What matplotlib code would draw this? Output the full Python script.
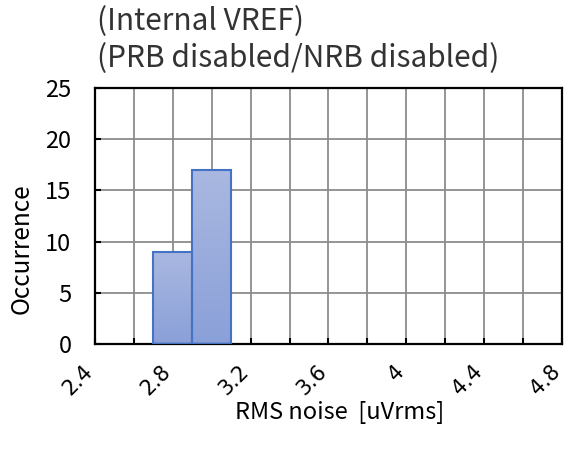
import numpy as np
import matplotlib
matplotlib.use('Agg')
import matplotlib.pyplot as plt
import matplotlib.transforms as mtransforms
from matplotlib.colors import LinearSegmentedColormap

plt.rcParams['font.family'] = ['Noto Sans CJK JP', 'DejaVu Sans']

# histogram
bin_centers = [2.8, 3.0]
counts = [9, 17]
bin_width = 0.2

x_ticks = [2.4, 2.8, 3.2, 3.6, 4.0, 4.4, 4.8]
x_tick_labels = ['2.4', '2.8', '3.2', '3.6', '4', '4.4', '4.8']
y_ticks = [0, 5, 10, 15, 20, 25]

title_lines = ['(Internal VREF)', '(PRB disabled/NRB disabled)']

fig = plt.figure(figsize=(5.68, 4.59), dpi=100)
ax = fig.add_axes([95 / 568, 115 / 459, 467 / 568, 256 / 459])

cmap = LinearSegmentedColormap.from_list('bar', ['#8aa0d8', '#aab8e1'])
grad = np.linspace(0, 1, 100).reshape(-1, 1)
bars = ax.bar(bin_centers, counts, width=bin_width, facecolor='none',
              edgecolor='#4472c4', linewidth=1.5, zorder=3)
for b in bars:
    x0, y0 = b.get_x(), b.get_y()
    w, h = b.get_width(), b.get_height()
    im = ax.imshow(grad, cmap=cmap, aspect='auto', origin='lower',
                   extent=[x0, x0 + w, y0, y0 + h], zorder=2,
                   interpolation='bilinear')
    im.set_clip_path(b)

ax.set_xlim(2.4, 4.8)
ax.set_ylim(0, 25)

# grid every 0.2 on x, every 5 on y
ax.set_xticks(np.arange(2.4, 4.81, 0.2), minor=True)
ax.set_xticks(x_ticks)
ax.set_xticklabels(x_tick_labels, rotation=45, ha='right', va='top',
                   rotation_mode='anchor', fontsize=15, family='DejaVu Sans')
ax.set_yticks(y_ticks)
ax.set_yticklabels([str(v) for v in y_ticks], fontsize=17)
ax.grid(True, which='both', color='#8c8c8c', linewidth=1.3)
ax.set_axisbelow(True)

for s in ax.spines.values():
    s.set_linewidth(1.6)
    s.set_color('black')

ax.tick_params(axis='x', which='both', direction='in', length=4, width=1.5,
               color='black', pad=4)
ax.tick_params(axis='y', which='both', direction='in', length=4, width=1.5,
               color='black', pad=17)

# slide rotated labels back along their own direction so 4.8 stays inside
shift = mtransforms.ScaledTranslation(-12 / 100, -12 / 100, fig.dpi_scale_trans)
for lbl in ax.get_xticklabels():
    lbl.set_transform(lbl.get_transform() + shift)

fig.text(22 / 568, 1 - 249 / 459, 'Occurrence', fontsize=17.5, rotation=90,
         ha='center', va='center')
fig.text(340 / 568, 1 - 412 / 459, 'RMS noise  [uVrms]', fontsize=17,
         ha='center', va='center')

fig.text(97 / 568, 1 - 6 / 459, '\n'.join(title_lines), fontsize=21.5,
         ha='left', va='top', linespacing=1.24, color='#333333')

fig.savefig('out.png', dpi=100)
